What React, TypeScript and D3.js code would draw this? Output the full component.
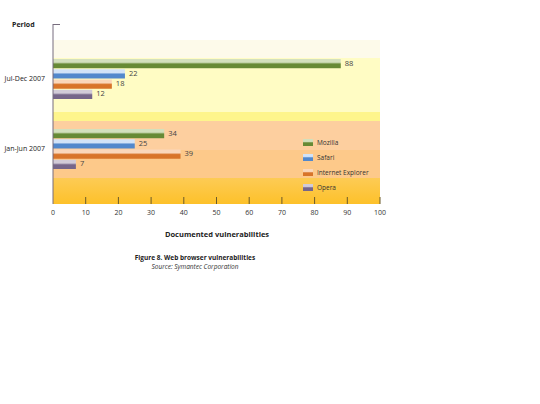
import { useEffect, useRef } from 'react';
import * as d3 from 'd3';

// Data
const periods = ['Jul-Dec 2007', 'Jan-Jun 2007'];
const browsers = ['Mozilla', 'Safari', 'Internet Explorer', 'Opera'];
const julDec = [88, 22, 18, 12];
const janJun = [34, 25, 39, 7];
const xTicks = [0, 10, 20, 30, 40, 50, 60, 70, 80, 90, 100];

const barColors: { [k: string]: [string, string] } = {
    'Mozilla': ['#d3e0bd', '#678a35'],
    'Safari': ['#d2e3f8', '#5288cc'],
    'Internet Explorer': ['#fad7bb', '#d8742a'],
    'Opera': ['#d2cbd8', '#76668a'],
};

export default function App() {
    const svgRef = useRef<SVGSVGElement>(null);

    useEffect(() => {
        if (!svgRef.current) return;
        const svg = d3.select(svgRef.current);
        svg.selectAll('*').remove();

        const font = '"Open Sans", "Liberation Sans", sans-serif';
        const left = 53, right = 380, top = 40, bottom = 204;

        const x = d3.scaleLinear().domain([0, 100]).range([left, right]);
        const y = d3.scaleBand().domain(periods).range([44, 184]);
        const inner = d3.scaleBand().domain(browsers).range([15, 55]).paddingInner(0.1);

        // gradients
        const defs = svg.append('defs');
        browsers.forEach((b, i) => {
            const g = defs.append('linearGradient')
                .attr('id', `grad${i}`)
                .attr('x1', 0).attr('y1', 0).attr('x2', 0).attr('y2', 1);
            g.append('stop').attr('offset', '0%').attr('stop-color', barColors[b][0]);
            g.append('stop').attr('offset', '35%').attr('stop-color', barColors[b][0]);
            g.append('stop').attr('offset', '55%').attr('stop-color', barColors[b][1]);
            g.append('stop').attr('offset', '100%').attr('stop-color', barColors[b][1]);
        });
        const gold = defs.append('linearGradient')
            .attr('id', 'gold').attr('x1', 0).attr('y1', 0).attr('x2', 0).attr('y2', 1);
        gold.append('stop').attr('offset', '0%').attr('stop-color', '#fdcb55');
        gold.append('stop').attr('offset', '100%').attr('stop-color', '#fdc12a');

        // background stripes
        const stripes = [
            { y0: top, y1: 58, fill: '#fdfaea' },
            { y0: 58, y1: 112, fill: '#fffcc4' },
            { y0: 112, y1: 121, fill: '#fef58c' },
            { y0: 121, y1: 150, fill: '#fdcf9f' },
            { y0: 150, y1: 178, fill: '#fdc98a' },
            { y0: 178, y1: bottom, fill: 'url(#gold)' },
        ];
        svg.selectAll('.stripe')
            .data(stripes)
            .enter()
            .append('rect')
            .attr('x', left)
            .attr('y', d => d.y0)
            .attr('width', right - left)
            .attr('height', d => d.y1 - d.y0)
            .attr('fill', d => d.fill);

        // bars
        const series = [julDec, janJun];
        periods.forEach((p, pi) => {
            const g = svg.append('g').attr('transform', `translate(0,${y(p) || 0})`);
            browsers.forEach((b, bi) => {
                const v = series[pi][bi];
                g.append('rect')
                    .attr('x', x(0))
                    .attr('y', inner(b) || 0)
                    .attr('width', x(v) - x(0))
                    .attr('height', inner.bandwidth())
                    .attr('fill', `url(#grad${bi})`);
                g.append('text')
                    .attr('x', x(v) + 4)
                    .attr('y', (inner(b) || 0) + inner.bandwidth() / 2)
                    .attr('dominant-baseline', 'middle')
                    .attr('font-family', font)
                    .attr('font-size', '7.5px')
                    .attr('fill', '#444')
                    .text(v);
            });
            svg.append('text')
                .attr('x', 45)
                .attr('y', (y(p) || 0) + y.bandwidth() / 2)
                .attr('text-anchor', 'end')
                .attr('dominant-baseline', 'middle')
                .attr('font-family', font)
                .attr('font-size', '7px')
                .attr('fill', '#222')
                .text(p);
        });

        // axis lines and ticks
        svg.append('line')
            .attr('x1', left).attr('x2', left)
            .attr('y1', 24).attr('y2', bottom)
            .attr('stroke', '#776d7e').attr('stroke-width', 1);
        svg.append('line')
            .attr('x1', left).attr('x2', 60)
            .attr('y1', 24.5).attr('y2', 24.5)
            .attr('stroke', '#776d7e').attr('stroke-width', 1);

        svg.selectAll('.tick')
            .data(xTicks.slice(1))
            .enter()
            .append('line')
            .attr('x1', d => x(d)).attr('x2', d => x(d))
            .attr('y1', 197).attr('y2', bottom)
            .attr('stroke', '#6b5a2a').attr('stroke-width', 1);

        svg.selectAll('.tick-label')
            .data(xTicks)
            .enter()
            .append('text')
            .attr('x', d => x(d))
            .attr('y', 213)
            .attr('text-anchor', 'middle')
            .attr('dominant-baseline', 'middle')
            .attr('font-family', font)
            .attr('font-size', '7px')
            .attr('fill', '#333')
            .text(d => d);

        // legend
        const legend = svg.append('g');
        browsers.forEach((b, i) => {
            legend.append('rect')
                .attr('x', 303)
                .attr('y', 139 + i * 15)
                .attr('width', 10)
                .attr('height', 7)
                .attr('fill', `url(#grad${i})`);
            legend.append('text')
                .attr('x', 317)
                .attr('y', 143 + i * 15)
                .attr('dominant-baseline', 'middle')
                .attr('font-family', font)
                .attr('font-size', '6.5px')
                .attr('fill', '#333')
                .text(b);
        });

        // titles
        svg.append('text')
            .attr('x', 12).attr('y', 27)
            .attr('font-family', font).attr('font-size', '7px')
            .attr('font-weight', 'bold').attr('fill', '#222')
            .text('Period');
        svg.append('text')
            .attr('x', 217).attr('y', 237)
            .attr('text-anchor', 'middle')
            .attr('font-family', font).attr('font-size', '7.5px')
            .attr('font-weight', 'bold').attr('fill', '#222')
            .text('Documented vulnerabilities');
        svg.append('text')
            .attr('x', 195).attr('y', 260)
            .attr('text-anchor', 'middle')
            .attr('font-family', font).attr('font-size', '6.5px')
            .attr('font-weight', 'bold').attr('fill', '#222')
            .text('Figure 8. Web browser vulnerabilities');
        svg.append('text')
            .attr('x', 195).attr('y', 269)
            .attr('text-anchor', 'middle')
            .attr('font-family', font).attr('font-size', '6.5px')
            .attr('font-style', 'italic').attr('fill', '#333')
            .text('Source: Symantec Corporation');
    }, []);

    return (
        <div style={{ position: 'absolute', left: 0, top: 0, width: 540, height: 404, background: '#fff' }}>
            <svg ref={svgRef} width={540} height={404} />
        </div>
    );
}
